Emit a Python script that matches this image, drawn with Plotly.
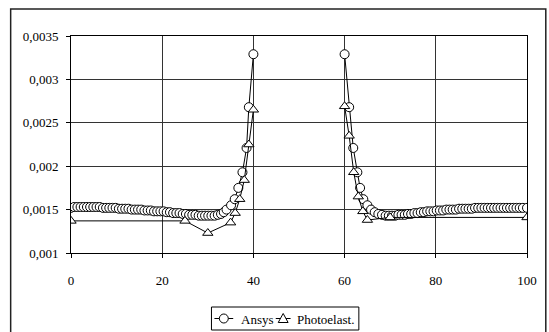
import plotly.graph_objects as go

# Ansys (FEM) data, left of hole
ansys_x_left = [0, 0.7, 1.4, 2.1, 2.8, 3.5, 4.2, 4.9, 5.6, 6.3, 7.0, 7.7, 8.4, 9.1, 9.8,
                10.5, 11.2, 11.9, 12.6, 13.3, 14.0, 14.7, 15.4, 16.1, 16.8, 17.5, 18.2,
                18.9, 19.6, 20.3, 21.0, 21.7, 22.4, 23.1, 23.8, 24.5, 25.2, 25.9, 26.6,
                27.3, 28.0, 28.7, 29.4, 30.1, 30.8, 31.5, 32.2, 32.9, 33.5, 34.1, 35.1,
                35.9, 36.7, 37.6, 38.5, 39.0, 40.0]
ansys_y_left = [0.00152, 0.00153, 0.00153, 0.00153, 0.00153, 0.00153, 0.00153, 0.00153,
                0.00153, 0.00153, 0.00152, 0.00152, 0.00152, 0.00152, 0.00152, 0.00151,
                0.00151, 0.00151, 0.00151, 0.00150, 0.00150, 0.00150, 0.00150, 0.00149,
                0.00149, 0.00149, 0.00148, 0.00148, 0.00148, 0.00148, 0.00147, 0.00147,
                0.00146, 0.00146, 0.00146, 0.00145, 0.00145, 0.00144, 0.00144, 0.00144,
                0.00143, 0.00143, 0.00143, 0.00143, 0.00143, 0.00143, 0.00144, 0.00145,
                0.00147, 0.00150, 0.00155, 0.00162, 0.00175, 0.00193, 0.00221, 0.00268,
                0.00329]
# Ansys data, right of hole
ansys_x_right = [60.0, 61.0, 61.9, 62.8, 63.4, 64.1, 65.0, 65.8, 66.6, 67.4, 68.2, 69.0,
                 69.7, 70.4, 71.1, 71.8, 72.5, 73.2, 73.9, 74.6, 75.3, 76.0, 76.7, 77.4,
                 78.1, 78.8, 79.5, 80.2, 80.9, 81.6, 82.3, 83.0, 83.7, 84.4, 85.1, 85.8,
                 86.5, 87.2, 87.9, 88.6, 89.3, 90.0, 90.7, 91.4, 92.1, 92.8, 93.5, 94.2,
                 94.9, 95.6, 96.3, 97.0, 97.7, 98.4, 99.1, 100.0]
ansys_y_right = [0.00329, 0.00268, 0.00221, 0.00193, 0.00175, 0.00162, 0.00155, 0.00150,
                 0.00147, 0.00145, 0.00144, 0.00143, 0.00143, 0.00143, 0.00143, 0.00144,
                 0.00144, 0.00144, 0.00145, 0.00145, 0.00146, 0.00146, 0.00147, 0.00147,
                 0.00148, 0.00148, 0.00148, 0.00149, 0.00149, 0.00149, 0.00150, 0.00150,
                 0.00150, 0.00150, 0.00151, 0.00151, 0.00151, 0.00151, 0.00151, 0.00152,
                 0.00152, 0.00152, 0.00152, 0.00152, 0.00152, 0.00152, 0.00152, 0.00152,
                 0.00152, 0.00152, 0.00152, 0.00152, 0.00152, 0.00152, 0.00152, 0.00152]

# Photoelasticity data
photo_x_left = [0, 25, 30, 35, 36, 37, 38, 39, 40]
photo_y_left = [0.00137, 0.00137, 0.00123, 0.00135, 0.00146, 0.00162, 0.00184, 0.00225, 0.00265]
photo_x_right = [60, 61, 62, 63, 64, 65, 70, 100]
photo_y_right = [0.00269, 0.00235, 0.00193, 0.00165, 0.00148, 0.00138, 0.00141, 0.00141]

series_names = ["Ansys", "Photoelast."]
series_symbols = ["circle", "triangle-up"]

y_ticks = [0.001, 0.0015, 0.002, 0.0025, 0.003, 0.0035]
y_tick_text = ["0,001", "0,0015", "0,002", "0,0025", "0,003", "0,0035"]
x_ticks = [0, 20, 40, 60, 80, 100]

FONT = "Liberation Serif"

L, R, T, B = 71, 17, 36, 79
W, H = 549, 332
pw, ph = W - L - R, H - T - B


def pxx(px):
    return (px - L) / pw


def pxy(py):
    return (H - B - py) / ph


fig = go.Figure()
ansys_x = ansys_x_left + [None] + ansys_x_right
ansys_y = ansys_y_left + [None] + ansys_y_right
photo_x = photo_x_left + [None] + photo_x_right
photo_y = photo_y_left + [None] + photo_y_right

marker_style = dict(size=9, color="white", line=dict(color="black", width=1))

fig.add_trace(go.Scatter(
    x=ansys_x, y=ansys_y, name=series_names[0], mode="lines+markers",
    line=dict(color="black", width=1),
    marker=dict(symbol=series_symbols[0], **marker_style), showlegend=False,
))
fig.add_trace(go.Scatter(
    x=photo_x, y=photo_y, name=series_names[1], mode="lines+markers",
    line=dict(color="black", width=1),
    marker=dict(symbol=series_symbols[1], **marker_style), showlegend=False,
))

# --- manual legend (Excel style) ---
leg_y = 318.5
leg_items = [(216, 235, 241), (278, 293, 297)]  # line start, line end, text start (px)
shapes = [
    dict(type="rect", xref="paper", yref="paper",
         x0=pxx(10), x1=pxx(551), y0=pxy(334), y1=pxy(9),
         line=dict(color="#222", width=1.5), fillcolor="rgba(0,0,0,0)", layer="below"),
    dict(type="rect", xref="paper", yref="paper",
         x0=pxx(213), x1=pxx(362), y0=pxy(330), y1=pxy(307),
         line=dict(color="black", width=1), fillcolor="rgba(0,0,0,0)", layer="below"),
]
annotations = []
for (x0, x1, xt), name, sym in zip(leg_items, series_names, series_symbols):
    shapes.append(dict(type="line", xref="paper", yref="paper",
                       x0=pxx(x0), x1=pxx(x1), y0=pxy(leg_y), y1=pxy(leg_y),
                       line=dict(color="black", width=1), layer="above"))
    cx = (x0 + x1) / 2
    if sym == "circle":
        shapes.append(dict(type="circle", xref="paper", yref="paper",
                           x0=pxx(cx - 4.5), x1=pxx(cx + 4.5),
                           y0=pxy(leg_y + 4.5), y1=pxy(leg_y - 4.5),
                           line=dict(color="black", width=1), fillcolor="white",
                           layer="above"))
    else:
        path = "M {:.5f},{:.5f} L {:.5f},{:.5f} L {:.5f},{:.5f} Z".format(
            pxx(cx), pxy(leg_y - 5), pxx(cx + 5), pxy(leg_y + 4), pxx(cx - 5), pxy(leg_y + 4))
        shapes.append(dict(type="path", xref="paper", yref="paper", path=path,
                           line=dict(color="black", width=1), fillcolor="white",
                           layer="above"))
    annotations.append(dict(xref="paper", yref="paper", x=pxx(xt), y=pxy(leg_y + 1),
                            text=name, showarrow=False, xanchor="left", yanchor="middle",
                            font=dict(family=FONT, size=13, color="black")))

fig.update_layout(
    width=W, height=H,
    margin=dict(l=L, r=R, t=T, b=B, pad=0),
    paper_bgcolor="white", plot_bgcolor="white",
    font=dict(family=FONT, size=13, color="black"),
    showlegend=False,
    xaxis=dict(
        range=[0, 100], tickvals=x_ticks, ticktext=[str(v) for v in x_ticks],
        showgrid=True, gridcolor="#333", gridwidth=1,
        showline=True, linecolor="black", linewidth=1, mirror=True,
        ticks="outside", ticklen=4, tickcolor="black",
        zeroline=False, ticklabelstandoff=11,
        tickfont=dict(family=FONT, size=13),
    ),
    yaxis=dict(
        range=[0.001, 0.0035], tickvals=y_ticks, ticktext=y_tick_text,
        showgrid=True, gridcolor="#333", gridwidth=1,
        showline=True, linecolor="black", linewidth=1, mirror=True,
        ticks="outside", ticklen=4, tickcolor="black",
        zeroline=False, ticklabelstandoff=5,
        tickfont=dict(family=FONT, size=13),
    ),
    shapes=shapes,
    annotations=annotations,
)

fig.write_html(
    "out.html",
    config={"displayModeBar": False},
    post_script="document.body.style.margin='0px';document.body.style.overflow='hidden';",
)
